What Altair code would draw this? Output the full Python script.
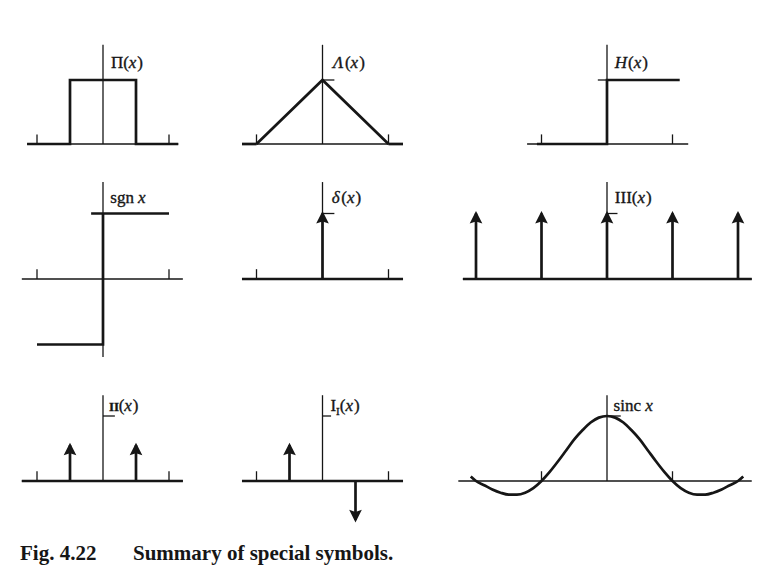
import altair as alt
import pandas as pd

INK = "#161616"
THIN = 1.3
THICK = 2.7
SERIF = "Liberation Serif"
LBL = 17

# ---------------- data (function values, x in units) ----------------
# Π(x): rectangle function
rect_x = [-1.15, -0.5, -0.5, 0.5, 0.5, 1.14]
rect_y = [0, 0, 1, 1, 0, 0]
# Λ(x): triangle function
tri_x = [-1, 0, 1]
tri_y = [0, 1, 0]
# H(x): Heaviside step
step_x = [-1.07, 0, 0, 1.11]
step_y = [0, 0, 1, 1]
# sgn x
sgn_low_x = [-1, 0, 0]
sgn_low_y = [-1, -1, 1]
sgn_top_x = [-0.18, 1]
sgn_top_y = [1, 1]
# δ(x)
delta_pos = [0]
delta_h = [1]
# III(x)
shah_pos = [-2, -1, 0, 1, 2]
shah_h = [1, 1, 1, 1, 1]
# II(x): even impulse pair
even_pos = [-0.5, 0.5]
even_h = [0.55, 0.55]
# I_I(x): odd impulse pair
odd_pos = [-0.5, 0.5]
odd_h = [0.55, -0.6]
# sinc x
sinc_x = [-2.08, -2.0, -1.875, -1.75, -1.625, -1.5, -1.375, -1.25, -1.125, -1.0,
          -0.875, -0.75, -0.625, -0.5, -0.375, -0.25, -0.125, 0.0,
          0.125, 0.25, 0.375, 0.5, 0.625, 0.75, 0.875, 1.0,
          1.125, 1.25, 1.375, 1.5, 1.625, 1.75, 1.875, 2.0, 2.08]
sinc_y = [0.07, 0.0, -0.065, -0.13, -0.18, -0.21, -0.21, -0.18, -0.11, 0.0,
          0.14, 0.30, 0.47, 0.64, 0.78, 0.90, 0.975, 1.0,
          0.975, 0.90, 0.78, 0.64, 0.47, 0.30, 0.14, 0.0,
          -0.11, -0.18, -0.21, -0.21, -0.18, -0.13, -0.065, 0.0, 0.07]
unit_ticks = [-1, 1]

# caption
fig_label = ["Fig. 4.22"]
fig_title = ["Summary of special symbols."]

# ---------------- helpers ----------------
EM = {'Π': 0.72, 'Λ': 0.64, 'H': 0.72, 'δ': 0.5, 'I': 0.333, '(': 0.333, ')': 0.333,
      'x': 0.444, 's': 0.389, 'g': 0.5, 'n': 0.5, 'i': 0.278, 'c': 0.444, ' ': 0.25}

N, IT = "normal", "italic"


def panel(w, xdom, h, ydom, base, vaxis, thick_base=(), polylines=(), ticks=(),
          top_tick=None, arrows=None, curve=None, label=None, label_at=(0.1, 1.2)):
    xs = alt.Scale(domain=list(xdom), nice=False, zero=False)
    ys = alt.Scale(domain=list(ydom), nice=False, zero=False)
    X = alt.X("x:Q", scale=xs, axis=None)
    Y = alt.Y("y:Q", scale=ys, axis=None)

    thin_rows = [dict(x=base[0], y=0, x2=base[1], y2=0),
                 dict(x=0, y=vaxis[0], x2=0, y2=vaxis[1])]
    for t in ticks:
        thin_rows.append(dict(x=t, y=0, x2=t, y2=0.15))
    if top_tick is not None:
        thin_rows.append(dict(x=top_tick[0], y=1, x2=top_tick[1], y2=1))
    thin_df = pd.DataFrame(thin_rows)
    layers = [alt.Chart(thin_df).mark_rule(color=INK, strokeWidth=THIN)
              .encode(x=X, y=Y, x2="x2:Q", y2="y2:Q")]

    thick_rows = [dict(x=a, y=0, x2=b, y2=0) for a, b in thick_base]
    if arrows is not None:
        for p, hh in zip(*arrows):
            thick_rows.append(dict(x=p, y=0, x2=p, y2=hh))
    if thick_rows:
        tdf = pd.DataFrame(thick_rows)
        layers.append(alt.Chart(tdf).mark_rule(color=INK, strokeWidth=THICK, strokeCap="butt")
                      .encode(x=X, y=Y, x2="x2:Q", y2="y2:Q"))

    line_rows = []
    for k, (lx, ly) in enumerate(polylines):
        for i, (a, b) in enumerate(zip(lx, ly)):
            line_rows.append(dict(seg=k, i=i, x=a, y=b))
    if line_rows:
        ldf = pd.DataFrame(line_rows)
        layers.append(alt.Chart(ldf).mark_line(color=INK, strokeWidth=THICK, strokeJoin="miter")
                      .encode(x=X, y=Y, detail="seg:N", order="i:Q"))

    if curve is not None:
        cdf = pd.DataFrame({"x": curve[0], "y": curve[1]})
        layers.append(alt.Chart(cdf).mark_line(color=INK, strokeWidth=THICK, interpolate="monotone")
                      .encode(x=X, y=Y))

    if arrows is not None:
        up = pd.DataFrame([dict(x=p, y=hh) for p, hh in zip(*arrows) if hh > 0])
        dn = pd.DataFrame([dict(x=p, y=hh) for p, hh in zip(*arrows) if hh < 0])
        if len(up):
            layers.append(alt.Chart(up).mark_point(shape="M0,-0.4L1,1.6L0,1.25L-1,1.6Z", size=160,
                                                   filled=True, opacity=1, color=INK, strokeWidth=0)
                          .encode(x=X, y=Y))
        if len(dn):
            layers.append(alt.Chart(dn).mark_point(shape="M0,0.4L1,-1.6L0,-1.25L-1,-1.6Z", size=160,
                                                   filled=True, opacity=1, color=INK, strokeWidth=0)
                          .encode(x=X, y=Y))

    if label is not None:
        pos = pd.DataFrame({"x": [label_at[0]], "y": [label_at[1]]})
        dx = 0.0
        for piece in label:
            txt, style = piece[0], piece[1]
            size = piece[2] if len(piece) > 2 else LBL
            dy = piece[3] if len(piece) > 3 else 0
            weight = piece[4] if len(piece) > 4 else "normal"
            layers.append(alt.Chart(pos).mark_text(text=txt, align="left", baseline="alphabetic",
                                                   dx=dx, dy=dy, font=SERIF, fontSize=size,
                                                   fontStyle=style, fontWeight=weight, color=INK,
                                                   stroke=INK, strokeWidth=0.35)
                          .encode(x=X, y=Y))
            wsum = sum(EM.get(c, 0.5) for c in txt) * size
            if weight == "bold":
                wsum *= 1.12
            dx += wsum + (1.0 if style == IT else 0.0)

    return alt.layer(*layers).properties(width=w, height=h)


# ---------------- layout ----------------
C1 = (182, (-1.4394, 1.3182))
C2 = (185, (-1.4015, 1.4015))
C3 = (305, (-2.3206, 2.3359))
R1 = (152, (-0.25, 2.125))
R2 = (185, (-1.313, 1.5115))
R3 = (145, (-0.754, 1.477))

pi_p = panel(C1[0], C1[1], R1[0], R1[1], base=(-1.15, 1.14), vaxis=(0, 1.55),
             polylines=[(rect_x, rect_y)], ticks=unit_ticks,
             label=[("Π", N), ("(", N), ("x", IT), (")", N)], label_at=(0.12, 1.19))
lam_p = panel(C2[0], C2[1], R1[0], R1[1], base=(-1.22, 1.22), vaxis=(0, 1.55),
              thick_base=[(-1.22, -1), (1, 1.22)], polylines=[(tri_x, tri_y)], ticks=unit_ticks,
              top_tick=(0, 0.18),
              label=[("Λ", IT), ("(", N), ("x", IT), (")", N)], label_at=(0.16, 1.19))
h_p = panel(C3[0], C3[1], R1[0], R1[1], base=(-1.22, 1.24), vaxis=(0, 1.55),
            polylines=[(step_x, step_y)], ticks=unit_ticks, top_tick=(-0.14, 0),
            label=[("H", IT), ("(", N), ("x", IT), (")", N)], label_at=(0.12, 1.19))

sgn_p = panel(C1[0], C1[1], R2[0], R2[1], base=(-1.23, 1.21), vaxis=(-1.19, 1.48),
              polylines=[(sgn_low_x, sgn_low_y), (sgn_top_x, sgn_top_y)], ticks=unit_ticks,
              label=[("sgn ", N), ("x", IT)], label_at=(0.11, 1.16))
del_p = panel(C2[0], C2[1], R2[0], R2[1], base=(-1.22, 1.22), vaxis=(0, 1.48),
              thick_base=[(-1.22, 1.22)], ticks=unit_ticks, top_tick=(0, 0.18),
              arrows=(delta_pos, delta_h),
              label=[("δ", IT), ("(", N), ("x", IT), (")", N)], label_at=(0.14, 1.16))
sha_p = panel(C3[0], C3[1], R2[0], R2[1], base=(-2.2, 2.21), vaxis=(0, 1.48),
              thick_base=[(-2.2, 2.21)], top_tick=(0, 0.16),
              arrows=(shah_pos, shah_h),
              label=[("III", N), ("(", N), ("x", IT), (")", N)], label_at=(0.12, 1.16))

ev_p = panel(C1[0], C1[1], R3[0], R3[1], base=(-1.23, 1.21), vaxis=(0, 1.32),
             thick_base=[(-1.23, 1.21)], ticks=unit_ticks, top_tick=(0, 0.18),
             arrows=(even_pos, even_h),
             label=[("II", N, 13, 0, "bold"), ("(", N), ("x", IT), (")", N)], label_at=(0.09, 1.08))
od_p = panel(C2[0], C2[1], R3[0], R3[1], base=(-1.22, 1.22), vaxis=(0, 1.32),
             thick_base=[(-1.22, 1.22)], ticks=unit_ticks, top_tick=(0, 0.13),
             arrows=(odd_pos, odd_h),
             label=[("I", N), ("I", N, 11, 4), ("(", N), ("x", IT), (")", N)], label_at=(0.12, 1.08))
sinc_p = panel(C3[0], C3[1], R3[0], R3[1], base=(-2.27, 2.21), vaxis=(0, 1.32),
               ticks=unit_ticks, top_tick=(0, 0.21), curve=(sinc_x, sinc_y),
               label=[("sinc ", N), ("x", IT)], label_at=(0.1, 1.08))

row1 = alt.hconcat(pi_p, lam_p, h_p, spacing=40, bounds="flush")
row2 = alt.hconcat(sgn_p, del_p, sha_p, spacing=40, bounds="flush")
row3 = alt.hconcat(ev_p, od_p, sinc_p, spacing=40, bounds="flush")

cap_style = dict(align="left", baseline="alphabetic", font=SERIF, fontSize=21,
                 fontWeight="bold", color=INK)
fig_txt = alt.Chart(pd.DataFrame({"t": fig_label})).mark_text(**cap_style).encode(
    text="t:N", x=alt.value(12), y=alt.value(30))
sum_txt = alt.Chart(pd.DataFrame({"t": fig_title})).mark_text(**cap_style).encode(
    text="t:N", x=alt.value(125), y=alt.value(30))
caption = alt.layer(fig_txt, sum_txt).properties(width=752, height=36)

grid = alt.vconcat(row1, row2, row3, spacing=20)
chart = alt.vconcat(grid, caption, spacing=0).properties(
    padding=0, background="white"
).configure_view(stroke=None)

chart.save("out.html", embed_options={"renderer": "svg", "actions": False})
